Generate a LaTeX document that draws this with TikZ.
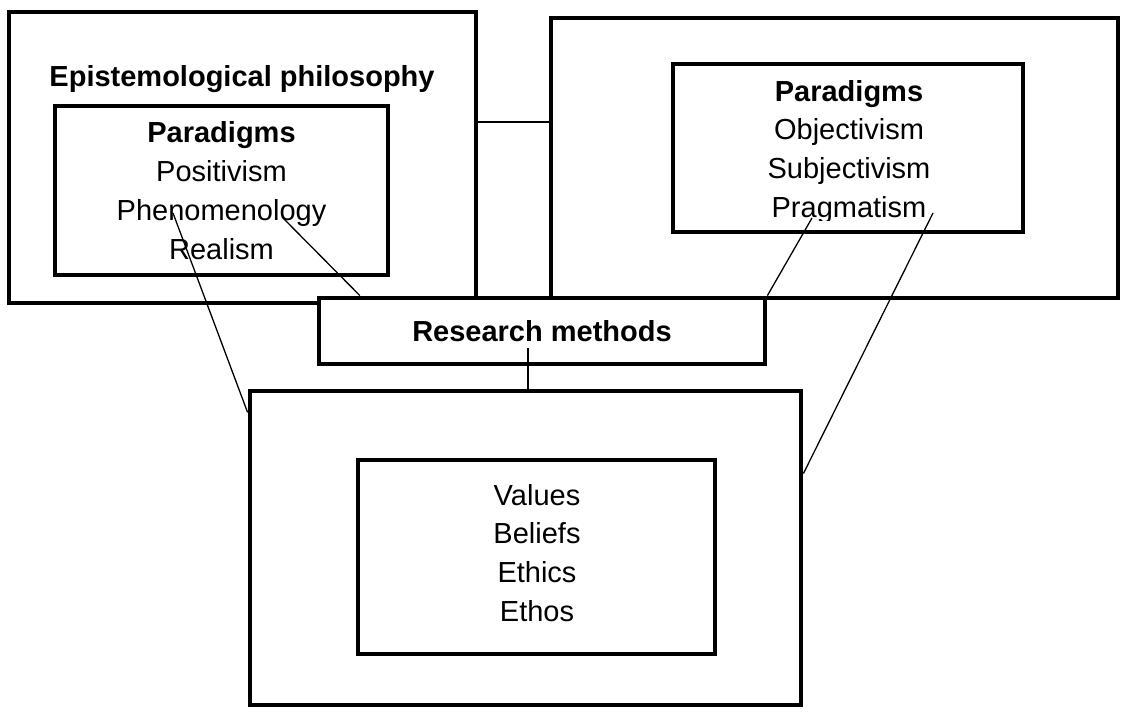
\documentclass[tikz,border=0pt]{standalone}
\usepackage{fontspec}
\setmainfont{Liberation Sans}
\usetikzlibrary{matrix}

\tikzset{
  txt/.style={font=\fontsize{29}{38.7}\selectfont},
  heavy/.style={font=\fontsize{29}{38.7}\selectfont\bfseries},
  frame/.style={draw, line width=4.8pt, inner sep=0pt, fill=white},
  link/.style={line width=1.3pt},
  words/.style={matrix of nodes, inner sep=0pt, row sep=11.7pt,
    nodes={text height=21pt, text depth=6pt, inner sep=0pt}},
}

\begin{document}
\begin{tikzpicture}[x=1pt, y=-1pt, every node/.style={txt}]
  \useasboundingbox (0,0) rectangle (1125,714);
  % Outer frames
  \node[frame, minimum width=467pt, minimum height=291pt] (lphil) at (242.5,157.5) {};
  \node[frame, minimum width=567pt, minimum height=280pt] (rphil) at (834.5,158) {};
  \node[frame, heavy, minimum width=446pt, minimum height=66pt] (rmeth) at (542,331) {Research methods};
  \node[frame, minimum width=551pt, minimum height=314pt] (vals) at (525.5,548) {};
  % Inner frames
  \node[frame, minimum width=333pt, minimum height=169pt] (lpar) at (221.5,190.5) {};
  \node[frame, minimum width=350pt, minimum height=168pt] (rpar) at (848,148) {};
  \node[frame, minimum width=357pt, minimum height=194pt] (valsin) at (536.5,557) {};

  \node[heavy, anchor=base, inner sep=0pt] (lphilhead) at (242,87) {Epistemological philosophy};

  % Set up the word lists
  \matrix (lpartext) at (221.5,193.55) [words] {
    |[heavy]| Paradigms \\
    Positivism \\
    Phenomenology \\
    Realism \\
  };
  \begin{scope}
    \clip (660,60) rectangle (1030,220.5); % last line cut short
    \matrix (rpartext) at (849,151.55) [words] {
      |[heavy]| Paradigms \\
      Objectivism \\
      Subjectivism \\
      Pragmatism \\
    };
  \end{scope}
  \matrix (valstext) at (537,555.55) [words] {
    Values \\
    Beliefs \\
    Ethics \\
    Ethos \\
  };

  % Connectors
  \coordinate (bridge) at ([yshift=35.5pt]lphil.east);
  \coordinate (phen) at (173,213);
  \coordinate (olog) at (282,217);
  \coordinate (prag) at (812,218);
  \coordinate (pragend) at (933,213);
  \coordinate (mtail) at (528,348);
  \draw[link] (bridge) -- (bridge -| rphil.west);
  \draw[link] (phen) -- (vals.154.6);
  \draw[link] (olog) -- (rmeth.169.8);
  \draw[link] (prag) -- (rmeth.north east);
  \draw[link] (pragend) -- (vals.15.8);
  \draw[link] (mtail) -- (mtail |- vals.north);
\end{tikzpicture}
\end{document}
